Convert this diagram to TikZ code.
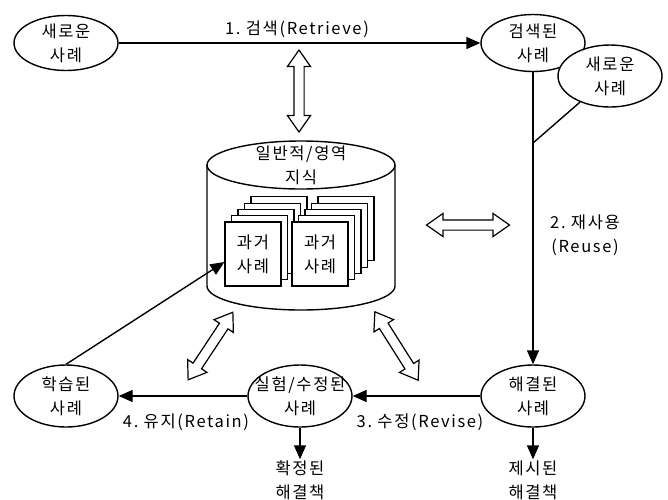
\documentclass[tikz,border=0pt]{standalone}
\usepackage{fontspec}
\setmainfont{Noto Sans CJK KR}[LetterSpace=10]
\usetikzlibrary{arrows.meta,shapes.geometric,shapes.arrows,calc}

\begin{document}
\begin{tikzpicture}[x=1pt,y=-1pt,font=\fontsize{16.5}{24}\selectfont,
  el/.style={ellipse,draw,line width=1.4pt,fill=white,minimum width=104pt,minimum height=62pt,inner sep=0pt,
    label={[align=center,inner sep=0pt]center:#1}},
  pg/.style={rectangle,draw,line width=1.2pt,fill=white,minimum width=56pt,minimum height=64pt,align=center},
  dbl/.style={double arrow,draw,line width=1.2pt,fill=white,minimum height=#1,inner sep=4.5pt,
    double arrow head extend=6.5pt,double arrow tip angle=70},
  ar/.style={-{Triangle[length=14pt,width=12pt]},line width=1.4pt},
  lb/.style={align=center,inner sep=1pt}]
  \useasboundingbox (0,0) rectangle (668,499);
  \node[el={새로운\\사례},minimum height=55pt](new) at (66,43){};
  \node[el={검색된\\사례},minimum height=57pt](ret) at (533,43){};
  \node[el={새로운\\사례}](new2) at (610,76){};
  \draw[ar](new)--(ret);
  \node[lb](l1) at (297,29){1.~검색(Retrieve)};
  \coordinate (j) at (533,143);
  \draw[line width=1.4pt](new2)--(j);
  \draw[line width=1.4pt,fill=white] (207,165) -- (207,286) arc[start angle=180,end angle=360,x radius=94pt,y radius=24pt] -- (395,165);
  \draw[line width=1.4pt] (301,165) ellipse [x radius=94,y radius=24];
  \node[lb](kb) at (301,165){일반적/영역\\지식};
  \foreach \k in {4,3,2,1} \node[pg](pa\k) at ({253+6.5*\k},{254-6.3*\k}){};
  \node[pg](p1) at (253,254){과거\\사례};
  \foreach \k in {4,3,2,1} \node[pg](pb\k) at ({320+6.5*\k},{254-6.3*\k}){};
  \node[pg](p2) at (320,254){과거\\사례};
  \node[dbl=82pt,rotate=90](dv) at (299,91){};
  \node[dbl=83pt](dh) at (468,225){};
  \node[dbl=81pt,rotate=56.5](dl) at (210.5,346){};
  \node[dbl=81pt,rotate=-57.7](dr) at (396.5,346){};
  \node[el={해결된\\사례}](sol) at (533,396){};
  \node[el={실험/수정된\\사례}](rev) at (300,396){};
  \node[el={학습된\\사례}](lrn) at (66,396){};
  \draw[ar](ret)--(sol);
  \node[lb](l2) at (585,235){2.~재사용\\(Reuse)};
  \draw[ar](sol)--(rev);\draw[ar](rev)--(lrn);
  \node[lb](l3) at (420,422){3.~수정(Revise)};
  \node[lb](l4) at (186,422){4.~유지(Retain)};
  \node[lb](fix) at (300,480){확정된\\해결책};
  \node[lb](sug) at (533,480){제시된\\해결책};
  \draw[ar](rev)--(fix);\draw[ar](sol)--(sug);
  \draw[ar](lrn.north)--($(p1.west)+(0,8)$);
\end{tikzpicture}
\end{document}
